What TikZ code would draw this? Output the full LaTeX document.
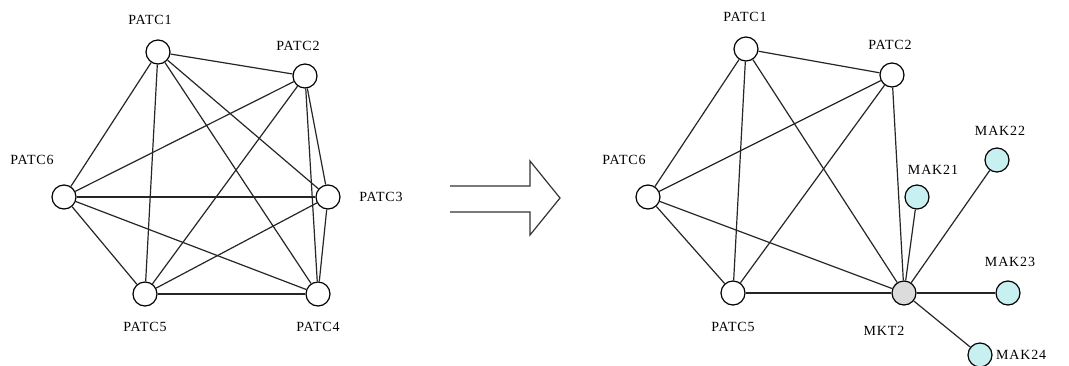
\documentclass[tikz,border=0pt]{standalone}
\usepackage{fontspec}
\setmainfont{Liberation Serif}
\newfontfamily\lblfont[LetterSpace=6]{Liberation Serif}
\definecolor{makcyan}{RGB}{200,240,240}
\definecolor{mktgray}{RGB}{220,220,220}

\begin{document}
\begin{tikzpicture}[x=1pt,y=-1pt,
        vert/.style={circle,draw,line width=1.2pt,minimum size=24pt,inner sep=0pt,fill=white},
        edge/.style={line width=1.2pt,draw=black!85},
        lbl/.style={inner sep=0pt,font=\lblfont\fontsize{14}{14}\selectfont}]
        \useasboundingbox[fill=white] (0,0) rectangle (1069,365);

        % Full mesh of PATC nodes
        \node[vert] (a1) at (158,52) {};
        \node[vert] (a2) at (305,76) {};
        \node[vert] (a3) at (328,197) {};
        \node[vert] (a4) at (318,294) {};
        \node[vert] (a5) at (145,294) {};
        \node[vert] (a6) at (64,197) {};
        \node[lbl] (la1) at (150,20) {PATC1};
        \node[lbl] (la2) at (298,46) {PATC2};
        \node[lbl] (la3) at (381,197) {PATC3};
        \node[lbl] (la4) at (318,327) {PATC4};
        \node[lbl] (la5) at (145,327) {PATC5};
        \node[lbl] (la6) at (32,160) {PATC6};
        \foreach \i/\j in {1/2,1/3,1/4,1/5,1/6,2/3,2/4,2/5,2/6,3/4,3/5,3/6,4/5,4/6,5/6}
            \draw[edge] (a\i) -- (a\j);

        % Hollow arrow
        \draw[line width=1.2pt,black!80] (450,186) -- (530,186) -- (530,161) -- (560,198)
            -- (530,235) -- (530,212) -- (450,212);

        % Reduced graph with MKT2
        \node[vert] (b1) at (746,49) {};
        \node[vert] (b2) at (892,75) {};
        \node[vert] (b6) at (648,197) {};
        \node[vert] (b5) at (733,293) {};
        \node[vert,fill=mktgray] (m) at (904,293) {};
        \node[vert,fill=makcyan] (k1) at (917,197) {};
        \node[vert,fill=makcyan] (k2) at (997,160) {};
        \node[vert,fill=makcyan] (k3) at (1008,293) {};
        \node[vert,fill=makcyan] (k4) at (980,355) {};
        \node[lbl] (lb1) at (745,17) {PATC1};
        \node[lbl] (lb2) at (890,45) {PATC2};
        \node[lbl] (lb6) at (624,160) {PATC6};
        \node[lbl] (lb5) at (733,327) {PATC5};
        \node[lbl] (lm) at (884,331) {MKT2};
        \node[lbl] (lk1) at (933,170) {MAK21};
        \node[lbl] (lk2) at (1000,131) {MAK22};
        \node[lbl] (lk3) at (1010,262) {MAK23};
        \node[lbl,anchor=west] (lk4) at (996,355) {MAK24};
        \foreach \i/\j in {b1/b2,b1/b6,b1/b5,b1/m,b2/b6,b2/b5,b2/m,b6/b5,b6/m,b5/m,m/k1,m/k2,m/k3,m/k4}
            \draw[edge] (\i) -- (\j);
    \end{tikzpicture}
\end{document}
